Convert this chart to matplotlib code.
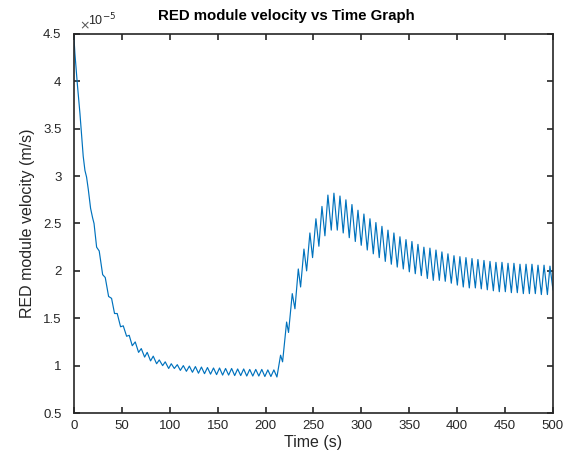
import matplotlib
matplotlib.use('Agg')
import matplotlib.pyplot as plt

# velocity, in units of 1e-5 m/s
# early decay (smooth part with small shoulders)
t_decay = [0, 1, 3.5, 6.3, 9.7, 11.5, 13.2, 15, 17.4, 19.5, 21, 23.7, 26.4, 30, 32.7,
           36.2, 39.3, 42.4, 45.2, 48.7, 51.5, 55, 57.7, 60.9, 64, 67.5, 70.3, 73.8,
           76.5, 80, 82.8, 86.3, 89.1, 92.6, 95.3, 98.9]
v_decay = [4.47, 4.30, 3.98, 3.66, 3.21, 3.06, 2.99, 2.86, 2.66, 2.56, 2.50, 2.25, 2.21,
           1.96, 1.93, 1.73, 1.71, 1.55, 1.55, 1.41, 1.42, 1.31, 1.32, 1.21, 1.25, 1.14,
           1.18, 1.09, 1.14, 1.05, 1.10, 1.02, 1.06, 1.00, 1.04, 0.97]

# oscillation peaks
t_peak = [101.6, 107.9, 114.2, 120.5, 126.8, 133.1, 139.4, 145.7, 152.0, 158.3, 164.6,
          170.9, 177.2, 183.5, 189.8, 196.1, 202.4, 208.7,
          215.7, 222.0, 227.9, 234.2, 240.1, 246.3, 252.6, 258.9, 265.1,
          271.4, 277.7, 283.9, 290.2, 296.5, 302.7, 309.0, 315.2, 321.5, 327.8, 334.0,
          340.3, 346.6, 352.8, 359.1, 365.3, 371.6, 377.9, 384.1, 390.4, 396.7, 402.9,
          409.2, 415.5, 421.7, 428.0, 434.3, 440.5, 446.8, 453.1, 459.3, 465.6, 471.9,
          478.1, 484.4, 490.7, 496.9]
v_peak = [1.02, 1.01, 1.00, 0.995, 0.99, 0.985, 0.98, 0.975, 0.975, 0.97, 0.97,
          0.965, 0.965, 0.96, 0.96, 0.96, 0.955, 0.955,
          1.11, 1.46, 1.76, 2.02, 2.23, 2.40, 2.55, 2.68, 2.80,
          2.82, 2.79, 2.75, 2.70, 2.64, 2.60, 2.55, 2.51, 2.47, 2.43, 2.40,
          2.36, 2.33, 2.31, 2.28, 2.25, 2.24, 2.22, 2.20, 2.18, 2.16, 2.15,
          2.14, 2.13, 2.12, 2.11, 2.10, 2.09, 2.09, 2.08, 2.08, 2.07, 2.07,
          2.07, 2.06, 2.06, 2.05]

# oscillation troughs
t_trough = [104.8, 111.1, 117.4, 123.7, 130.0, 136.3, 142.6, 148.9, 155.2, 161.5, 167.8,
            174.1, 180.4, 186.7, 193.0, 199.3, 205.6, 211.9,
            217.8, 224.0, 230.7, 236.6, 242.9, 249.1, 255.7, 262.0,
            268.6, 274.9, 281.1, 287.4, 293.7, 299.9, 306.2, 312.5, 318.7, 325.0, 331.3,
            337.5, 343.8, 350.1, 356.3, 362.6, 368.9, 375.1, 381.4, 387.6, 393.9, 400.2,
            406.4, 412.7, 419.0, 425.2, 431.5, 437.8, 444.0, 450.3, 456.6, 462.8, 469.1,
            475.4, 481.6, 487.9, 494.2, 500.0]
v_trough = [0.97, 0.95, 0.94, 0.93, 0.92, 0.915, 0.91, 0.905, 0.90, 0.90, 0.895,
            0.895, 0.89, 0.89, 0.89, 0.885, 0.885, 0.88,
            1.04, 1.35, 1.60, 1.83, 2.00, 2.14, 2.26, 2.37,
            2.43, 2.43, 2.40, 2.35, 2.31, 2.27, 2.22, 2.18, 2.14, 2.10, 2.07,
            2.04, 2.02, 1.99, 1.97, 1.95, 1.92, 1.90, 1.90, 1.89, 1.87, 1.85,
            1.83, 1.82, 1.82, 1.81, 1.80, 1.79, 1.78, 1.78, 1.77, 1.77, 1.76,
            1.76, 1.76, 1.75, 1.75, 1.80]

pts = sorted(list(zip(t_decay, v_decay)) + list(zip(t_peak, v_peak)) +
             list(zip(t_trough, v_trough)))
t = [p[0] for p in pts]
v = [p[1] for p in pts]

plt.rcParams['font.family'] = ['Liberation Sans', 'DejaVu Sans']
dark = '#262626'

fig = plt.figure(figsize=(5.73, 4.55), dpi=100)
ax = fig.add_axes([0.129, 0.0923, 0.836, 0.833])
ax.plot(t, v, color='#0072BD', lw=0.85)

ax.set_xlim(0, 500)
ax.set_ylim(0.5, 4.5)
ax.set_xticks(range(0, 501, 50))
yt = [0.5, 1, 1.5, 2, 2.5, 3, 3.5, 4, 4.5]
ax.set_yticks(yt)
ax.set_yticklabels(['%g' % y for y in yt])
ax.tick_params(direction='in', length=4, width=1.2, colors=dark, labelsize=9.5,
               top=True, right=True)
ax.tick_params(axis='y', pad=9)
ax.tick_params(axis='x', pad=5)
for s in ax.spines.values():
    s.set_color(dark)
    s.set_linewidth(1.2)

ax.text(0.01, 1.004, r'$\times$', transform=ax.transAxes, fontsize=9,
        color='#555555', ha='left', va='bottom')
ax.text(0.03, 1.016, r'10$^{-5}$', transform=ax.transAxes, fontsize=9,
        color=dark, ha='left', va='bottom')
ax.set_title('RED module velocity vs Time Graph', fontsize=10.8, fontweight='bold',
             x=0.443, pad=10, color='black')
ax.set_xlabel('Time (s)', fontsize=11.5, color=dark, labelpad=2)
ax.set_ylabel('RED module velocity (m/s)', fontsize=11.5, color=dark, labelpad=6)

fig.savefig('out.png', dpi=100)
